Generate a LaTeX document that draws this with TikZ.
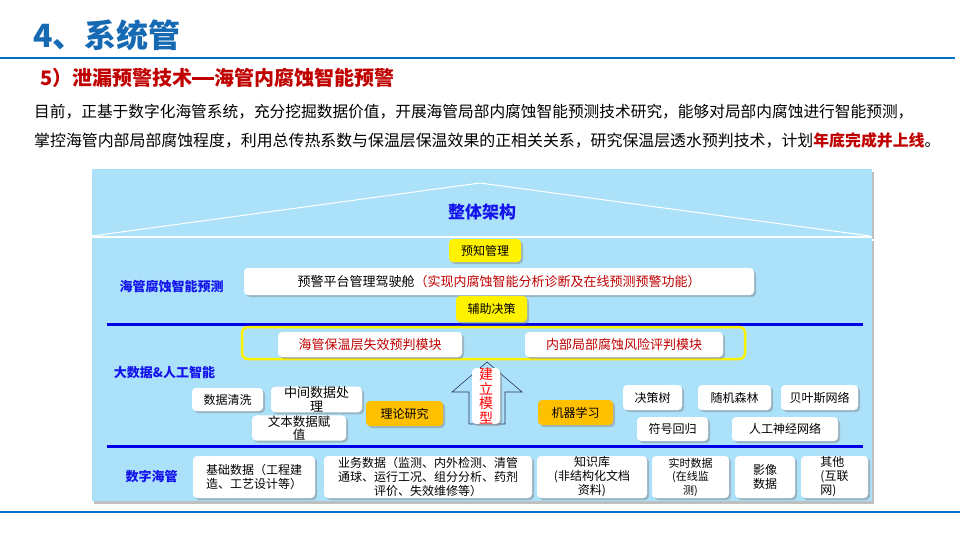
\documentclass[tikz,border=0pt]{standalone}
\usepackage{fontspec}
\setmainfont{Noto Sans CJK SC}
\usetikzlibrary{positioning,shadows}

\definecolor{titleblue}{RGB}{22,106,180}
\definecolor{ruleblue}{RGB}{0,112,192}
\definecolor{darkred}{RGB}{192,0,0}
\definecolor{panelblue}{RGB}{172,225,250}
\definecolor{layerblue}{RGB}{0,0,230}
\definecolor{labelblue}{RGB}{20,20,235}
\definecolor{boxorange}{RGB}{255,192,0}
\definecolor{arrowline}{RGB}{40,50,90}

\begin{document}
\begin{tikzpicture}[x=1pt, y=-1pt,
  % looks of the boxes
  box/.style={fill=white, rounded corners=4pt, inner sep=0pt, align=center,
    font=\fontsize{12}{14}\selectfont,
    drop shadow={shadow xshift=2pt, shadow yshift=-2pt, opacity=0.45}},
  tagbox/.style={box, fill=yellow},
  methodbox/.style={box, fill=boxorange},
  layer/.style={inner sep=0pt, text=labelblue, font=\fontsize{13}{15}\selectfont\bfseries},
  sepline/.style={draw=layerblue, line width=3pt}]

  \useasboundingbox[fill=white] (0,0) rectangle (960,540);

  % Page heading
  \node[anchor=west, inner sep=0pt, text=titleblue, font=\fontsize{32}{34}\selectfont\bfseries]
    (title) at (33,35) {4、系统管};
  \draw[ruleblue, line width=1.5pt] (0,58) -- (955,58);
  \draw[ruleblue, line width=1.2pt] (0,512) -- (960,512);
  \node[anchor=west, inner sep=0pt, text=darkred, font=\fontsize{20}{22}\selectfont\bfseries]
    (subtitle) at (40,78) {5）泄漏预警技术\rule[0.3em]{1.1em}{0.11em}海管内腐蚀智能预警};
  \node[anchor=west, inner sep=0pt, font=\fontsize{15.7}{18}\selectfont]
    (line1) at (34,112) {目前，正基于数字化海管系统，充分挖掘数据价值，开展海管局部内腐蚀智能预测技术研究，能够对局部内腐蚀进行智能预测，};
  \node[anchor=west, inner sep=0pt, font=\fontsize{15.9}{18}\selectfont]
    (line2) at (34,140) {掌控海管内部局部腐蚀程度，利用总传热系数与保温层保温效果的正相关关系，研究保温层透水预判技术，计划\textcolor{darkred}{\bfseries 年底完成并上线}。};

  % The panels
  \fill[panelblue, drop shadow={shadow xshift=2pt, shadow yshift=-3pt, opacity=0.5}]
    (92,169) rectangle (872,236);
  \fill[panelblue, drop shadow={shadow xshift=2pt, shadow yshift=-3pt, opacity=0.5}]
    (92,238) rectangle (872,501);
  \draw[white, line width=1pt] (92,236) -- (480,183) -- (870,236);
  \draw[white, line width=1.2pt] (92,237) -- (872,237);
  \node[layer, font=\fontsize{17}{19}\selectfont\bfseries] (whole) at (482,212) {整体架构};

  % Layer separators
  \draw[sepline] (107,324) -- (863,324);
  \draw[sepline] (107,446) -- (863,446);

  % Top layer
  \node[layer] (predlabel) at (171.5,287) {海管腐蚀智能预测};
  \node[tagbox, minimum width=72pt, minimum height=23pt] (foresee) at (485,250.5) {预知管理};
  \node[box, minimum width=510pt, minimum height=27pt, font=\fontsize{13}{15}\selectfont]
    (cockpit) at (499,281.5) {预警平台管理驾驶舱\textcolor{darkred}{（实现内腐蚀智能分析诊断及在线预测预警功能）}};
  \node[tagbox, minimum width=71pt, minimum height=26pt] (assist) at (491.5,309) {辅助决策};

  % Middle layer
  \node[layer] (ailabel) at (164.5,373) {大数据\&人工智能};
  \draw[yellow, line width=2.5pt, rounded corners=6pt] (242,327) rectangle (745,359);
  \node[box, minimum width=184pt, minimum height=25pt, text=darkred, font=\fontsize{13}{15}\selectfont]
    (insul) at (370,344.5) {海管保温层失效预判模块};
  \node[box, minimum width=198pt, minimum height=25pt, text=darkred, font=\fontsize{13}{15}\selectfont]
    (risk) at (624,344.5) {内部局部腐蚀风险评判模块};

  \node[box, minimum width=71pt, minimum height=23pt] (clean) at (227.5,399.5) {数据清洗};
  \node[box, minimum width=91pt, minimum height=23pt, font=\fontsize{13}{14}\selectfont]
    (midproc) at (316.5,399.5) {中间数据处\\理};
  \node[box, minimum width=94pt, minimum height=24pt, font=\fontsize{12.5}{13.5}\selectfont]
    (textval) at (299,428) {文本数据赋\\值};
  \node[methodbox, minimum width=77pt, minimum height=25pt] (theory) at (404.5,413.5) {理论研究};
  \node[methodbox, minimum width=75pt, minimum height=25pt] (mlearn) at (575.5,412.5) {机器学习};

  % Up arrow
  \coordinate (tip) at (487,362);
  \draw[arrowline, fill=panelblue, line width=0.6pt]
    (tip) -- (522,392) -- (505,392) -- (505,424) -- (469,424) -- (469,392) -- (452,392) -- cycle;
  \node[box, minimum width=28pt, minimum height=56pt, text=red, font=\fontsize{14}{14.5}\selectfont]
    (build) at (486,396) {建\\立\\模\\型};

  \node[box, minimum width=59pt, minimum height=25pt] (tree) at (652.5,397.5) {决策树};
  \node[box, minimum width=73pt, minimum height=25pt] (forest) at (734.5,397.5) {随机森林};
  \node[box, minimum width=77pt, minimum height=25pt] (bayes) at (819.5,397.5) {贝叶斯网络};
  \node[box, minimum width=71pt, minimum height=24pt] (symreg) at (672.5,429) {符号回归};
  \node[box, minimum width=106pt, minimum height=24pt] (ann) at (785,429) {人工神经网络};

  % Bottom layer
  \node[layer] (digilabel) at (151.5,477) {数字海管};
  \node[box, minimum width=122pt, minimum height=42pt] (basedata) at (254,477)
    {基础数据（工程建\\造、工艺设计等）};
  \node[box, minimum width=208pt, minimum height=42pt] (bizdata) at (428,477)
    {业务数据（监测、内外检测、清管\\通球、运行工况、组分分析、药剂\\评价、失效维修等）};
  \node[box, minimum width=110pt, minimum height=42pt] (knowbase) at (592,477)
    {知识库\\(非结构化文档\\资料)};
  \node[box, minimum width=77pt, minimum height=42pt, font=\fontsize{11}{13.5}\selectfont]
    (realtime) at (690.5,477) {实时数据\\(在线监\\测)};
  \node[box, minimum width=60pt, minimum height=42pt] (imagery) at (765,477) {影像\\数据};
  \node[box, minimum width=67pt, minimum height=42pt, align=left] (others) at (834.5,477)
    {其他\\(互联\\网)};
\end{tikzpicture}
\end{document}
